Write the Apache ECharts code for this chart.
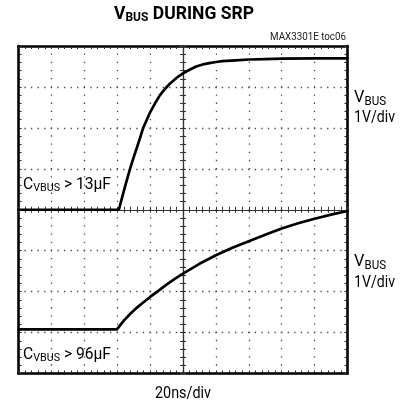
<!DOCTYPE html>
<html>
<head>
<meta charset="utf-8">
<script src="https://cdn.jsdelivr.net/npm/echarts@6/dist/echarts.min.js"></script>
<style>
html,body{margin:0;padding:0;background:#fff;}
#c{width:411px;height:408px;}
</style>
</head>
<body>
<div id="c"></div>
<script>
// time axis in divisions (20 ns/div), vertical in divisions (1 V/div), 0 = screen centre
const topX = [0, 3.05, 3.15, 3.25, 3.39, 3.5, 3.6, 3.7, 3.79, 3.9, 4.0, 4.15, 4.3, 4.45, 4.6, 4.8, 5.0, 5.2, 5.4, 5.6, 5.8, 6.0, 6.2, 6.6, 7.0, 7.5, 8.0, 9.0, 10.0];
const topY = [0, 0, 0.3, 0.6, 1.0, 1.28, 1.52, 1.77, 2.0, 2.2, 2.38, 2.6, 2.8, 2.95, 3.08, 3.22, 3.33, 3.42, 3.5, 3.55, 3.58, 3.61, 3.63, 3.65, 3.67, 3.68, 3.69, 3.7, 3.7];
const botX = [0, 2.99, 3.1, 3.2, 3.4, 3.6, 3.8, 4.0, 4.25, 4.5, 4.75, 5.0, 5.5, 6.0, 6.5, 7.0, 7.5, 8.0, 8.5, 9.0, 9.5, 10.0];
const botY = [-2.92, -2.92, -2.81, -2.71, -2.54, -2.39, -2.26, -2.13, -1.98, -1.83, -1.69, -1.56, -1.32, -1.11, -0.93, -0.77, -0.61, -0.46, -0.33, -0.22, -0.12, -0.03];
const titleParts = ['V', 'BUS', ' DURING SRP'];
const noteText = 'MAX3301E toc06';
const xLabel = '20ns/div';
const traceLabelMain = ['V', 'V'];
const traceLabelSub = ['BUS', 'BUS'];
const traceScale = ['1V/div', '1V/div'];
const capLabels = [['C', 'VBUS', ' > 13\u00b5F'], ['C', 'VBUS', ' > 96\u00b5F']];

const FONT = 'Roboto, "Noto Sans", sans-serif';
const G = {left: 18.5, top: 46, right: 63.5, bottom: 34.5};

const mctx = document.createElement('canvas').getContext('2d');
function tw(text, size, weight) {
  mctx.font = (weight || 'normal') + ' ' + size + 'px Roboto';
  return mctx.measureText(text).width;
}

function frameAxis(pos, isX) {
  return {
    type: 'value', gridIndex: 0, position: pos,
    min: isX ? 0 : -4, max: isX ? 10 : 4, interval: 1,
    axisLine: {show: true, onZero: false, lineStyle: {color: '#000', width: 2.6}},
    axisTick: {show: true, inside: true, length: 3, lineStyle: {color: '#222', width: 1}},
    minorTick: {show: true, splitNumber: 5, length: 3, lineStyle: {color: '#222', width: 1}},
    axisLabel: {show: false},
    splitLine: {show: false}
  };
}
function centreAxis(gi, isX, inside) {
  return {
    type: 'value', gridIndex: gi,
    min: isX ? -5 : -4, max: isX ? 5 : 4, interval: 1,
    axisLine: {show: true, onZero: true, lineStyle: {color: '#333', width: 1.2}},
    axisTick: {show: true, inside: inside, length: 3, lineStyle: {color: '#333', width: 1}},
    minorTick: {show: true, splitNumber: 5, length: 3, lineStyle: {color: '#333', width: 1}},
    axisLabel: {show: false},
    splitLine: {show: false}
  };
}

const xs = [frameAxis('bottom', true), frameAxis('top', true)];
xs[0].splitLine = {show: true, lineStyle: {color: '#444', width: 1.3, type: [1.3, 6.88], dashOffset: 0.65}};
const ys = [frameAxis('left', false), frameAxis('right', false)];
ys[0].splitLine = {show: true, lineStyle: {color: '#444', width: 1.3, type: [1.3, 5.28], dashOffset: 0.65}};
xs.push(centreAxis(1, true, true)); ys.push(centreAxis(1, false, true));
xs.push(centreAxis(2, true, false)); ys.push(centreAxis(2, false, false));

function pairs(a, b) { return a.map((v, i) => [v, b[i]]); }

// text with a subscript part, horizontally fitted to a target width (condensed face look)
function subText(parts, big, small, weight, x, y, align, targetW) {
  const w = tw(parts[0], big, weight) + tw(parts[1], small, weight) + tw(parts[2], big, weight);
  return {
    type: 'text', x: x, y: y, scaleX: targetW / w, z: 10,
    style: {
      text: '{a|' + parts[0] + '}{b|' + parts[1] + '}{a|' + parts[2] + '}',
      textAlign: align, textVerticalAlign: 'middle',
      rich: {
        a: {fontFamily: FONT, fontSize: big, fontWeight: weight, fill: '#000', lineHeight: big + 2, verticalAlign: 'middle'},
        b: {fontFamily: FONT, fontSize: small, fontWeight: weight, fill: '#000', lineHeight: 7, verticalAlign: 'bottom'}
      }
    }
  };
}
function plainText(text, size, x, y, align, targetW, color) {
  return {
    type: 'text', x: x, y: y, scaleX: targetW / tw(text, size, 'normal'), z: 10,
    style: {text: text, fontFamily: FONT, fontSize: size, fill: color || '#000', textAlign: align, textVerticalAlign: 'middle'}
  };
}

const graphics = [
  subText(titleParts, 19, 13, 'bold', 184, 14, 'center', 140),
  plainText(noteText, 10, 346, 37, 'right', 76, '#222'),
  plainText(xLabel, 17, 183, 394, 'center', 56),
  subText([traceLabelMain[0], traceLabelSub[0], ''], 17, 12, 'normal', 354, 98, 'left', 32),
  plainText(traceScale[0], 17, 354, 118, 'left', 41),
  subText([traceLabelMain[1], traceLabelSub[1], ''], 17, 12, 'normal', 354, 262, 'left', 32),
  plainText(traceScale[1], 17, 354, 283, 'left', 41),
  subText(capLabels[0], 16, 11, 'normal', 23, 185, 'left', 88),
  subText(capLabels[1], 16, 11, 'normal', 23, 355, 'left', 88)
];

const chart = echarts.init(document.getElementById('c'), null, {renderer: 'canvas'});
chart.setOption({
  animation: false,
  backgroundColor: '#fff',
  grid: [Object.assign({}, G), Object.assign({}, G), Object.assign({}, G)],
  xAxis: xs,
  yAxis: ys,
  graphic: graphics,
  series: [
    {type: 'line', xAxisIndex: 0, yAxisIndex: 0, data: pairs(topX, topY), smooth: false, symbol: 'none',
      lineStyle: {color: '#000', width: 2.7, join: 'round', cap: 'round'}},
    {type: 'line', xAxisIndex: 0, yAxisIndex: 0, data: pairs(botX, botY), smooth: false, symbol: 'none',
      lineStyle: {color: '#000', width: 2.7, join: 'round', cap: 'round'}}
  ]
});
</script>
</body>
</html>
